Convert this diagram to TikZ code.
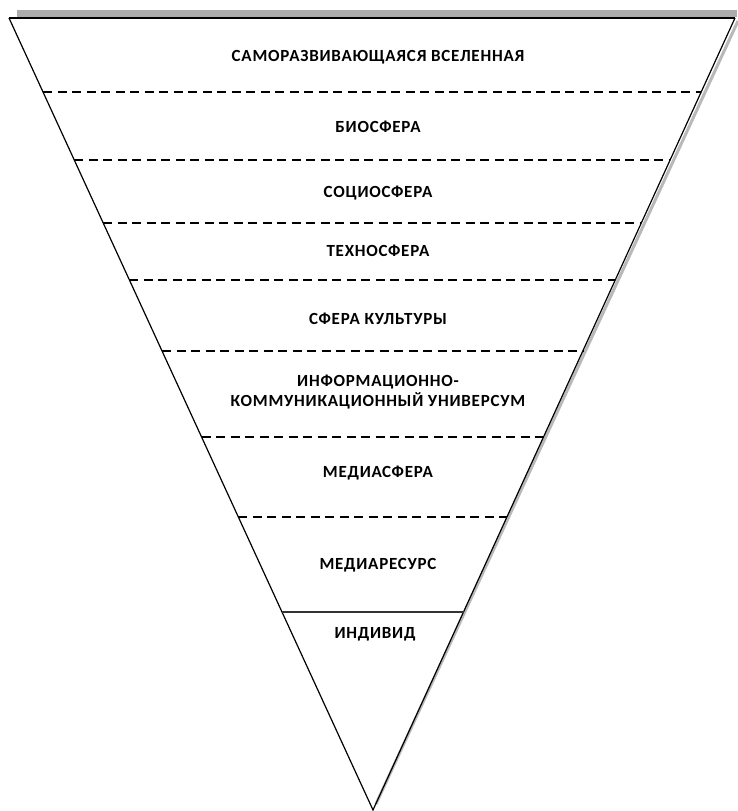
\documentclass[tikz,border=0pt]{standalone}
\usepackage{fontspec}
\setmainfont{Carlito}
\usetikzlibrary{calc}

\tikzset{
	lvl/.style={font=\bfseries\fontsize{17}{20.5}\selectfont\addfontfeature{LetterSpace=4.5}, align=center, inner sep=0pt},
	sep/.style={line width=1.6pt, dash pattern=on 9pt off 5.5pt},
}

\begin{document}
\begin{tikzpicture}[x=1pt,y=-1pt]
	\useasboundingbox (0,0) rectangle (737,811);
	
	\coordinate (TL) at (9,18);
	\coordinate (TR) at (735,18);
	\coordinate (V) at (373,810);
	
	% shadow
	\fill[gray!65] (17,10) rectangle (737,17);
	\draw[gray!55, line width=3pt] ($(TR)+(3,3)$) -- ($(V)+(3,-6)$);
	
	\draw[line width=1.2pt] (TL) -- (V) -- (TR);
	\draw[line width=2pt] (TL) -- (TR);
	
	% levels
	\foreach \y in {92,160,223,280,351,437,517} {
		\pgfmathsetmacro{\t}{(\y-18)/792}
		\draw[sep] ($(TL)!\t!(V)$) -- ($(TR)!\t!(V)$);
	}
	\coordinate (SL) at ($(TL)!{(612-18)/792}!(V)$);
	\coordinate (SR) at ($(TR)!{(612-18)/792}!(V)$);
	\draw[line width=1.4pt, black!80] (SL) -- (SR);
	
	\node[lvl] (L1) at (378,57) {САМОРАЗВИВАЮЩАЯСЯ ВСЕЛЕННАЯ};
	\node[lvl] (L2) at (378,127) {БИОСФЕРА};
	\node[lvl] (L3) at (378,193) {СОЦИОСФЕРА};
	\node[lvl] (L4) at (378,251) {ТЕХНОСФЕРА};
	\node[lvl] (L5) at (378,319) {СФЕРА КУЛЬТУРЫ};
	\node[lvl] (L6) at (378,392) {ИНФОРМАЦИОННО-\\КОММУНИКАЦИОННЫЙ УНИВЕРСУМ};
	\node[lvl] (L7) at (378,473) {МЕДИАСФЕРА};
	\node[lvl] (L8) at (378,565) {МЕДИАРЕСУРС};
	\node[lvl] (L9) at (375,634) {ИНДИВИД};
	
\end{tikzpicture}
\end{document}
